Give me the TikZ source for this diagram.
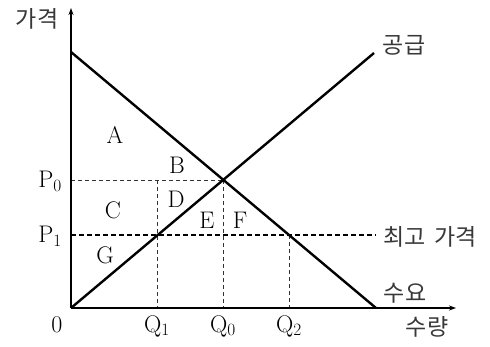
\documentclass[tikz,border=0pt]{standalone}
\usepackage{fontspec}
\newfontfamily\kr{Noto Sans CJK KR}
\usetikzlibrary{arrows.meta}
\tikzset{
  axis/.style={line width=1.1pt,-{Stealth[length=7pt,width=5pt]}},
  curve/.style={line width=2.4pt},
  guide/.style={line width=0.9pt,dash pattern=on 4pt off 3pt,black!80},
  ceil/.style={line width=2.6pt,dash pattern=on 5pt off 3pt},
  lbl/.style={font=\fontsize{24}{24}\selectfont,inner sep=0pt},
  klbl/.style={font=\kr\fontsize{23}{23}\selectfont,inner sep=0pt,text=black!78},
}
\begin{document}
\begin{tikzpicture}[x=1pt,y=-1pt]
\useasboundingbox (0,0) rectangle (490,346);
\coordinate (O) at (71,308);
\coordinate (Ytop) at (71,8);
\coordinate (Xend) at (456,308);
\coordinate (Dtop) at (71,52);
\coordinate (Dbot) at (376,308);
\coordinate (Stop) at (374,53);
\coordinate (E0) at (223,180);
\coordinate (P0) at (71,180);
\coordinate (P1) at (71,235);
\coordinate (Cend) at (376,235);
\coordinate (Q1t) at (157,180);
\coordinate (Q1) at (157,308);
\coordinate (Q0) at (223,308);
\coordinate (Q2t) at (289,235);
\coordinate (Q2) at (289,308);
% guides
\draw[guide] (P0) -- (E0);
\draw[guide] (Q1t) -- (Q1);
\draw[guide] (E0) -- (Q0);
\draw[guide] (Q2t) -- (Q2);
% axes
\draw[axis] (O) -- (Ytop);
\draw[axis] (O) -- (Xend);
% curves
\draw[curve] (Dtop) -- (Dbot);
\draw[curve] (O) -- (Stop);
\draw[ceil] (P1) -- (Cend);
% labels
\node[klbl] (py) at (37,19) {가격};
\node[klbl] (sup) at (404,45) {공급};
\node[klbl] (dem) at (405,293) {수요};
\node[klbl] (qx) at (427,327) {수량};
\node[klbl] (ceilL) at (430,237) {최고\hspace{0.35em}가격};
\node[lbl] (zero) at (57,325) {0};
\node[lbl] (lq1) at (157,326) {$\mathrm{Q}_1$};
\node[lbl] (lq0) at (223,326) {$\mathrm{Q}_0$};
\node[lbl] (lq2) at (289,326) {$\mathrm{Q}_2$};
\node[lbl] (lp0) at (50,181) {$\mathrm{P}_0$};
\node[lbl] (lp1) at (50,236) {$\mathrm{P}_1$};
\node[lbl] (A) at (115,135) {A};
\node[lbl] (B) at (177,165) {B};
\node[lbl] (C) at (113,210) {C};
\node[lbl] (D) at (176,199) {D};
\node[lbl] (E) at (207,220) {E};
\node[lbl] (F) at (240,220) {F};
\node[lbl] (G) at (105,255) {G};
\end{tikzpicture}
\end{document}
